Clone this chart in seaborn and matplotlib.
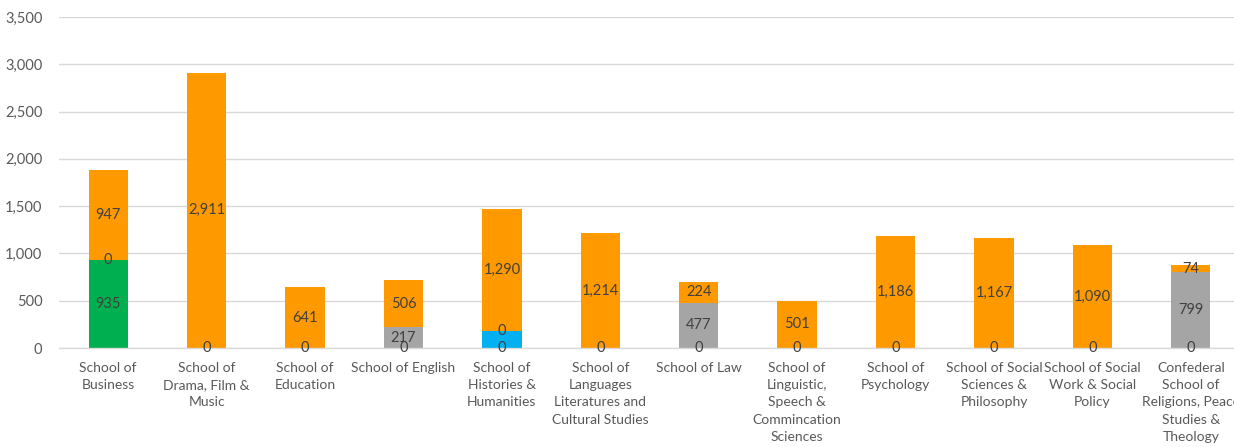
import matplotlib
matplotlib.use("Agg")
import matplotlib.pyplot as plt
import seaborn as sns
import numpy as np
import pandas as pd

categories = [
    "School of\nBusiness",
    "School of\nDrama, Film &\nMusic",
    "School of\nEducation",
    "School of English",
    "School of\nHistories &\nHumanities",
    "School of\nLanguages\nLiteratures and\nCultural Studies",
    "School of Law",
    "School of\nLinguistic,\nSpeech &\nCommincation\nSciences",
    "School of\nPsychology",
    "School of Social\nSciences &\nPhilosophy",
    "School of Social\nWork & Social\nPolicy",
    "Confederal\nSchool of\nReligions, Peace\nStudies &\nTheology",
]
green_vals = [935, 0, 0, 0, 0, 0, 0, 0, 0, 0, 0, 0]
blue_vals = [0, 0, 0, 0, 177, 0, 0, 0, 0, 0, 0, 0]
grey_vals = [0, 0, 0, 217, 0, 0, 477, 0, 0, 0, 0, 799]
orange_vals = [947, 2911, 641, 506, 1290, 1214, 224, 501, 1186, 1167, 1090, 74]

yticks = [0, 500, 1000, 1500, 2000, 2500, 3000, 3500]

GREEN = "#00B050"
BLUE = "#00B0F0"
GREY = "#A5A5A5"
ORANGE = "#FF9900"
TXT = "#404040"
TICK = "#595959"
GRID = "#D9D9D9"

sns.set_theme(style="white")
plt.rcParams["font.family"] = ["Lato", "DejaVu Sans"]

series = [("green", green_vals, GREEN, True),
          ("blue", blue_vals, BLUE, False),
          ("grey", grey_vals, GREY, True),
          ("orange", orange_vals, ORANGE, True)]

g = np.array(green_vals)
b = np.array(blue_vals)
gr = np.array(grey_vals)
o = np.array(orange_vals)
cum = [g, g + b, g + b + gr, g + b + gr + o]

fig = plt.figure(figsize=(12.34, 4.47), dpi=100)
ax = fig.add_axes([59 / 1234, (447 - 348) / 447, 1181 / 1234, 331 / 447])

xpos = list(range(len(categories)))
# draw from top of stack downwards so each layer overlays the previous
for (name, vals, color, lab), c in reversed(list(zip(series, cum))):
    df = pd.DataFrame({"cat": xpos, "val": c})
    sns.barplot(data=df, x="cat", y="val", color=color, width=0.4,
                saturation=1, ax=ax, order=xpos, linewidth=0)

ax.set_xlim(-0.5, len(categories) - 0.5)
ax.set_ylim(0, 3500)
ax.set_yticks(yticks)
ax.set_yticklabels([f"{v:,}" for v in yticks], color=TICK, fontsize=10.5)
ax.set_xticks(xpos)
ax.set_xticklabels(categories, color=TICK, fontsize=10, linespacing=1.53,
                   va="top")
ax.tick_params(axis="x", length=0, pad=10)
ax.tick_params(axis="y", length=0, pad=12)
ax.set_xlabel("")
ax.set_ylabel("")
ax.yaxis.grid(True, color=GRID, linewidth=1)
ax.set_axisbelow(True)
for s in ["top", "right", "left"]:
    ax.spines[s].set_visible(False)
ax.spines["bottom"].set_color(GRID)
ax.spines["bottom"].set_linewidth(1)

# data labels
seen = set()
bottoms = np.zeros(len(categories))
for (name, vals, color, lab) in series:
    for i, v in enumerate(vals):
        if lab:
            y = bottoms[i] + v / 2
            key = (i, round(y, 1))
            if key not in seen:
                seen.add(key)
                ax.text(i, y, f"{v:,}", ha="center", va="center",
                        color=TXT, fontsize=10.5)
    bottoms = bottoms + np.array(vals)

fig.savefig("out.png", dpi=100)
